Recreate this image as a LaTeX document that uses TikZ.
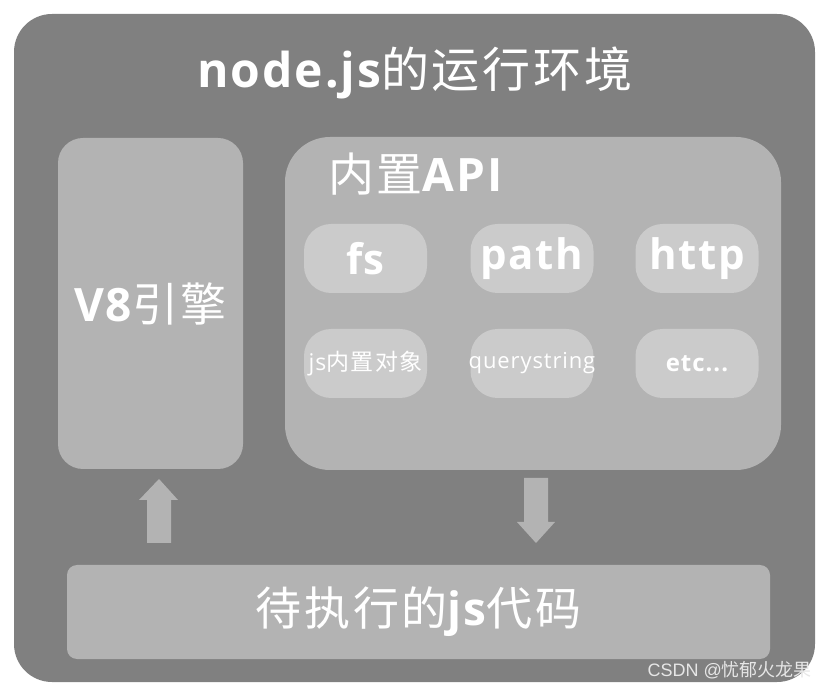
\documentclass[tikz,border=0pt]{standalone}
\usepackage{fontspec}
\setmainfont{Open Sans}[LetterSpace=4]
\newfontfamily\cjk{Noto Sans CJK SC}[LetterSpace=6]
\newfontfamily\plaincjk{Noto Sans CJK SC}
\newfontfamily\wmfont{Liberation Sans}
\newcommand\zh[1]{{\normalfont\cjk #1}}
\definecolor{outerc}{HTML}{808080}
\definecolor{boxc}{HTML}{B3B3B3}
\definecolor{pillc}{HTML}{CBCBCB}
\definecolor{wmc}{HTML}{E6E6E6}
\begin{document}
\begin{tikzpicture}[x=1pt,y=-1pt,
  box/.style={fill=boxc, draw=none, inner sep=0pt},
  pill/.style={fill=pillc, draw=none, rounded corners=27pt, minimum width=123pt, minimum height=69pt, inner sep=0pt, text=white},
  big/.style={text=white, inner sep=0pt, font=\fontsize{46}{46}\selectfont\bfseries},
  arrowshape/.style={fill=boxc, draw=none}
]
\fill[white] (0,0) rectangle (828,692);
\useasboundingbox (0,0) rectangle (828,692);
% outer frame
\node[fill=outerc, rounded corners=38pt, minimum width=801pt, minimum height=668pt, inner sep=0pt] (outer) at (414.5,348) {};
\node[big, font=\fontsize{48}{48}\selectfont\bfseries] (title) at (415,73) {node.js\zh{的运行环境}};
% V8
\node[box, rounded corners=25pt, minimum width=185pt, minimum height=331pt] (v8) at (150.5,303.5) {};
\node[big] (v8t) at (v8.center) {V8\zh{引擎}};
% API box
\node[box, rounded corners=45pt, minimum width=496pt, minimum height=333pt] (api) at (533,303.5) {};
\node[big, anchor=west] (apit) at (328,174) {\zh{内置}API};
% pills
\node[pill] (fs) at (365.5,258.5) {};
\node[pill] (path) at (532,258.5) {};
\node[pill] (http) at (697,258.5) {};
\node[pill] (jsobj) at (365.5,363.5) {};
\node[pill] (qs) at (532,363.5) {};
\node[pill] (etc) at (697,363.5) {};
\node[text=white, font=\fontsize{42}{42}\selectfont\bfseries] (fst) at (fs.center) {fs};
\node[text=white, font=\fontsize{42}{42}\selectfont\bfseries] (patht) at (path.center) {path};
\node[text=white, font=\fontsize{42}{42}\selectfont\bfseries] (httpt) at (http.center) {http};
\node[text=white, font=\fontsize{23}{23}\selectfont] (jsobjt) at (jsobj.center) {js\zh{内置对象}};
\node[text=white, font=\fontsize{22}{22}\selectfont] (qst) at (qs.center) {querystring};
\node[text=white, font=\fontsize{24}{24}\selectfont\bfseries] (etct) at (etc.center) {etc...};
% bottom
\node[box, rounded corners=10pt, minimum width=703pt, minimum height=94pt] (code) at (418.5,612) {};
\node[big] (codet) at (code.center) {\zh{待执行的}js\zh{代码}};
% arrows
\fill[arrowshape] (147,543) -- (147,500) -- (139,500) -- (159,479) -- (178,500) -- (171,500) -- (171,543) -- cycle;
\fill[arrowshape] (524,478) -- (524,522) -- (517,522) -- (536,543) -- (555,522) -- (548,522) -- (548,478) -- cycle;
% watermark
\node[anchor=east, text=wmc, inner sep=0pt, font=\wmfont\fontsize{18}{18}\selectfont] (wm) at (812,670) {CSDN @{\plaincjk 忧郁火龙果}};
\end{tikzpicture}
\end{document}
